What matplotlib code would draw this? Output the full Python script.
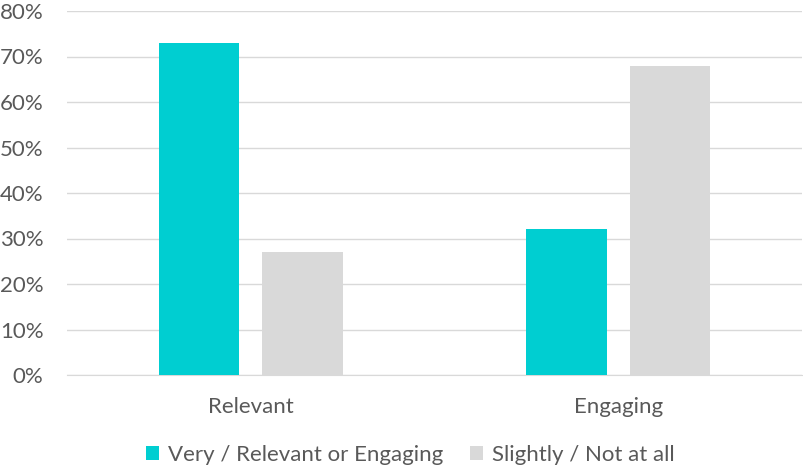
import numpy as np
import matplotlib.pyplot as plt

categories = ['Relevant', 'Engaging']
very = [73, 32]
slightly = [27, 68]
series_names = ['Very / Relevant or Engaging', 'Slightly / Not at all']

plt.rcParams['font.family'] = ['Lato', 'DejaVu Sans']

fig = plt.figure(figsize=(8.04, 4.67), dpi=100)
ax = fig.add_axes([67/804, 1 - 375/467, 735/804, 364/467])

x = np.arange(len(categories))
w = 0.22
off = 0.141
ax.bar(x - off, very, w, color='#00CED1', label=series_names[0], zorder=3)
ax.bar(x + off, slightly, w, color='#D9D9D9', label=series_names[1], zorder=3)

ax.set_xlim(-0.5, 1.5)
ax.set_ylim(0, 80)
ax.set_yticks(range(0, 81, 10))
ax.set_yticklabels([f'{v}%' for v in range(0, 81, 10)])
ax.set_xticks(x)
ax.set_xticklabels(categories)
ax.grid(axis='y', color='#D9D9D9', linewidth=1, zorder=0)
for s in ['top', 'right', 'left']:
    ax.spines[s].set_visible(False)
ax.spines['bottom'].set_color('#D9D9D9')
ax.tick_params(axis='both', length=0, labelsize=16, colors='#595959')
ax.tick_params(axis='y', pad=17)
ax.tick_params(axis='x', pad=16)

fig.legend(loc='center', bbox_to_anchor=(0.51, 1 - 455/467), ncol=2, frameon=False,
           fontsize=16, labelcolor='#595959', handlelength=0.6, handleheight=0.6,
           handletextpad=0.4, columnspacing=1.2)

fig.savefig('out.png', dpi=100)
